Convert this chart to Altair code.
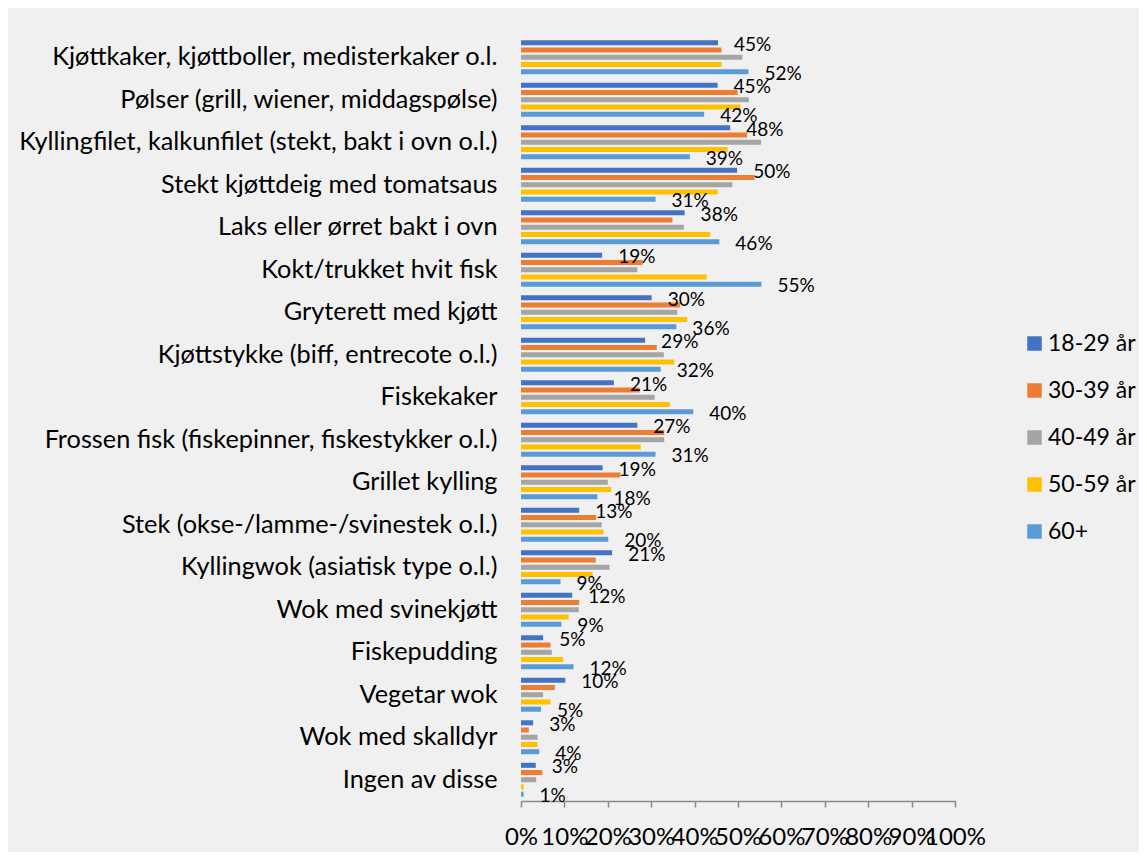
import altair as alt
import pandas as pd

categories = [
    "Kjøttkaker, kjøttboller, medisterkaker o.l.",
    "Pølser (grill, wiener, middagspølse)",
    "Kyllingfilet, kalkunfilet (stekt, bakt i ovn o.l.)",
    "Stekt kjøttdeig med tomatsaus",
    "Laks eller ørret bakt i ovn",
    "Kokt/trukket hvit fisk",
    "Gryterett med kjøtt",
    "Kjøttstykke (biff, entrecote o.l.)",
    "Fiskekaker",
    "Frossen fisk (fiskepinner, fiskestykker o.l.)",
    "Grillet kylling",
    "Stek (okse-/lamme-/svinestek o.l.)",
    "Kyllingwok (asiatisk type o.l.)",
    "Wok med svinekjøtt",
    "Fiskepudding",
    "Vegetar wok",
    "Wok med skalldyr",
    "Ingen av disse",
]

series = ["18-29 år", "30-39 år", "40-49 år", "50-59 år", "60+"]
colors = ["#4472C4", "#ED7D31", "#A5A5A5", "#FFC000", "#5B9BD5"]

age_18_29 = [45.4, 45.3, 48.2, 49.8, 37.7, 18.7, 30.1, 28.6, 21.4, 26.8, 18.8, 13.4, 21.0, 11.8, 5.1, 10.2, 2.8, 3.4]
age_30_39 = [46.2, 49.9, 52.1, 53.8, 34.9, 28.0, 36.6, 31.3, 27.3, 33.0, 22.9, 17.3, 17.2, 13.4, 6.8, 7.8, 1.8, 4.9]
age_40_49 = [51.0, 52.5, 55.3, 48.7, 37.5, 26.8, 36.0, 32.9, 30.8, 33.0, 20.0, 18.6, 20.4, 13.3, 7.1, 5.1, 3.8, 3.5]
age_50_59 = [46.2, 50.6, 47.6, 45.3, 43.6, 42.8, 38.3, 35.3, 34.3, 27.6, 20.8, 19.0, 16.5, 11.0, 9.7, 6.8, 3.8, 0.6]
age_60_plus = [52.4, 42.2, 38.9, 31.0, 45.7, 55.4, 35.8, 32.2, 39.7, 31.0, 17.6, 20.1, 9.1, 9.3, 12.1, 4.6, 4.2, 0.6]

labelled_series = ["18-29 år", "60+"]
x_ticks = [0, 10, 20, 30, 40, 50, 60, 70, 80, 90, 100]

rows = []
for s, vals in zip(series, [age_18_29, age_30_39, age_40_49, age_50_59, age_60_plus]):
    for c, v in zip(categories, vals):
        rows.append({"category": c, "series": s, "value": v})
df = pd.DataFrame(rows)

FONT = "Lato"

y_enc = alt.Y(
    "category:N",
    sort=categories,
    title=None,
    scale=alt.Scale(paddingInner=0.15, paddingOuter=0.075),
    axis=alt.Axis(
        domain=False, ticks=False, labelPadding=24, labelLimit=600,
        labelFontSize=25.3, labelFont=FONT, labelColor="#000000",
    ),
)
yoff_enc = alt.YOffset(
    "series:N", sort=series,
    scale=alt.Scale(paddingInner=0.3, paddingOuter=0.15),
)
x_enc = alt.X(
    "value:Q",
    title=None,
    scale=alt.Scale(domain=[0, 100], nice=False),
    axis=alt.Axis(
        values=x_ticks, grid=False, domainColor="#898989", domainWidth=1.5,
        tickColor="#898989", tickSize=6, tickWidth=1.5,
        labelExpr="datum.value + '%'", labelFontSize=24, labelFont=FONT,
        labelColor="#000000", labelPadding=18, labelOverlap=False,
        labelFlush=False,
    ),
)

bars = alt.Chart(df).mark_bar().encode(
    y=y_enc,
    yOffset=yoff_enc,
    x=x_enc,
    color=alt.Color(
        "series:N", sort=series,
        scale=alt.Scale(domain=series, range=colors),
        legend=alt.Legend(
            title=None, orient="none", legendX=502, legendY=296,
            symbolType="square", symbolSize=210, symbolStrokeWidth=0,
            labelFontSize=23, labelFont=FONT, labelColor="#000000",
            labelOffset=2, rowPadding=23, padding=0, labelLimit=200,
        ),
    ),
)

labels = alt.Chart(df).transform_filter(
    alt.FieldOneOfPredicate(field="series", oneOf=labelled_series)
).transform_calculate(
    label="round(datum.value) + '%'"
).mark_text(
    align="left", baseline="middle", dx=16, dy=2,
    fontSize=19, font=FONT, color="#000000",
).encode(
    y=alt.Y("category:N", sort=categories),
    yOffset=alt.YOffset("series:N", sort=series),
    x=alt.X("value:Q"),
    text="label:N",
)

chart = (bars + labels).properties(
    width=434, height=765,
    background="#F0F0F0",
    padding={"left": 513, "top": 28, "right": 184, "bottom": 51},
    autosize=alt.AutoSizeParams(type="none"),
).configure_view(stroke=None)

chart.save("out.html", embed_options={"renderer": "svg", "actions": False})
